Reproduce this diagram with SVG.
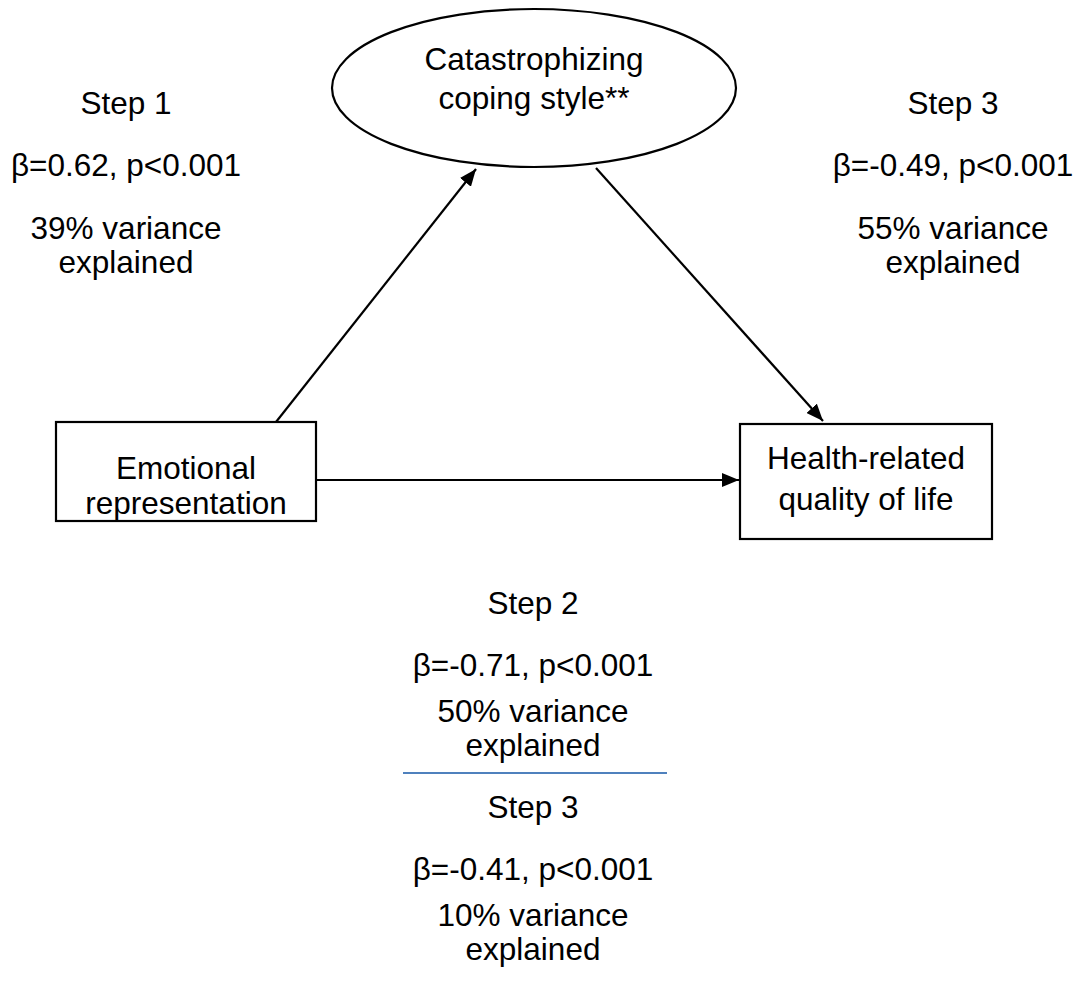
<svg xmlns="http://www.w3.org/2000/svg" width="1082" height="990" viewBox="0 0 1082 990">
  <style>
    text { font-family: "Liberation Sans", Arial, sans-serif; font-size: 31.5px; fill: #000; text-anchor: middle; }
    .node { fill: #fff; stroke: #000; stroke-width: 2.2; }
    .conn { stroke: #000; stroke-width: 2.2; fill: none; }
    .sep { stroke: #4F81BD; stroke-width: 2; }
  </style>
  <defs>
    <marker id="arrow" markerUnits="userSpaceOnUse" markerWidth="18" markerHeight="14" refX="17" refY="7" orient="auto">
      <path d="M0,0 L17,7 L0,14 Z" fill="#000"/>
    </marker>
  </defs>

  <g id="connectors">
    <line class="conn" x1="276" y1="422" x2="476" y2="169" marker-end="url(#arrow)"/>
    <line class="conn" x1="596" y1="168" x2="823" y2="421" marker-end="url(#arrow)"/>
    <line class="conn" x1="312" y1="480" x2="739" y2="480" marker-end="url(#arrow)"/>
  </g>

  <g id="node-catastrophizing">
    <ellipse class="node" cx="534" cy="88" rx="202" ry="79"/>
    <text x="534" y="70">Catastrophizing</text>
    <text x="534" y="109">coping style**</text>
  </g>

  <g id="node-emotional">
    <rect class="node" x="56" y="422" width="260" height="99"/>
    <text x="186" y="479">Emotional</text>
    <text x="186" y="514">representation</text>
  </g>

  <g id="node-hrqol">
    <rect class="node" x="740" y="424" width="252" height="115"/>
    <text x="866" y="469">Health-related</text>
    <text x="866" y="510">quality of life</text>
  </g>

  <g id="label-step1">
    <text x="126" y="114">Step 1</text>
    <text x="126" y="176">β=0.62, p&lt;0.001</text>
    <text x="126" y="239">39% variance</text>
    <text x="126" y="273">explained</text>
  </g>

  <g id="label-step3-top">
    <text x="953" y="114">Step 3</text>
    <text x="953" y="176">β=-0.49, p&lt;0.001</text>
    <text x="953" y="239">55% variance</text>
    <text x="953" y="273">explained</text>
  </g>

  <g id="label-step2">
    <text x="533" y="614">Step 2</text>
    <text x="533" y="676">β=-0.71, p&lt;0.001</text>
    <text x="533" y="722">50% variance</text>
    <text x="533" y="756">explained</text>
  </g>

  <line class="sep" x1="403" y1="773" x2="667" y2="773"/>

  <g id="label-step3-bottom">
    <text x="533" y="818">Step 3</text>
    <text x="533" y="880">β=-0.41, p&lt;0.001</text>
    <text x="533" y="926">10% variance</text>
    <text x="533" y="960">explained</text>
  </g>
</svg>
